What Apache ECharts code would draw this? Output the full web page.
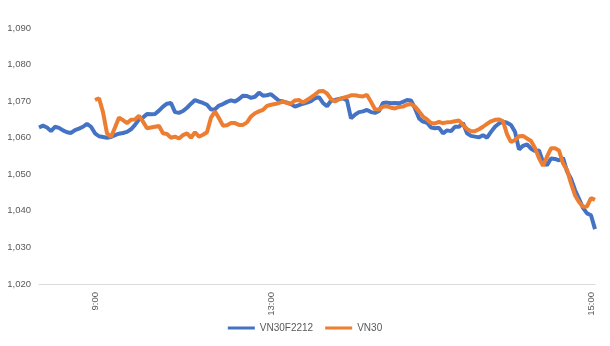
<!DOCTYPE html>
<html>
<head>
<meta charset="utf-8">
<script src="https://cdn.jsdelivr.net/npm/echarts@6/dist/echarts.min.js"></script>
<style>html,body{margin:0;padding:0;background:#fff}#c{width:610px;height:346px}</style>
</head>
<body>
<div id="c"></div>
<script>
const seriesNames = ['VN30F2212', 'VN30'];
const tickLabels = ['9:00', '13:00', '15:00'];
const tickIndex = [14, 58, 138];
const vn30f2212 = [
1062.8,1063.3,1062.8,1061.8,1063,1062.7,1062,1061.5,1061.3,1062.1,
1062.5,1063,1063.8,1063,1061.2,1060.4,1060.2,1060,1060.2,1060.7,
1061.1,1061.3,1061.6,1062.3,1063.5,1065,1065.5,1066.5,1066.4,1066.5,
1067.4,1068.5,1069.3,1069.5,1067,1066.8,1067.3,1068.2,1069.3,1070.3,
1069.9,1069.5,1069,1067.7,1067.8,1068.8,1069.2,1069.8,1070.2,1069.9,
1070.6,1071.5,1071.4,1070.9,1071.2,1072.3,1071.5,1071.6,1071.9,1071,
1070.1,1069.9,1069.6,1069.2,1068.5,1068.9,1069.3,1069.6,1070,1070.8,
1071.1,1069.5,1068.6,1070.1,1070.3,1070.6,1070.8,1070.2,1065.3,1066.3,
1067,1067.2,1067.6,1067,1066.8,1067.3,1069.5,1069.6,1069.4,1069.5,
1069.4,1069.8,1070.3,1070.2,1068,1065.3,1064.4,1064.1,1062.8,1062.6,
1062.7,1061.2,1062,1061.8,1063,1063,1064,1061.2,1060.5,1060.3,
1060.1,1060.7,1060,1061.6,1063,1063.9,1064.4,1064.1,1063.5,1061.6,
1056.8,1057.8,1058.2,1057,1056.4,1056.5,1053.4,1052.5,1054.3,1054.2,
1053.8,1054.5,1050.8,1048.8,1045.7,1043.3,1040.8,1039.3,1038.8,1035
];
const vn30 = [
null,null,null,null,null,null,null,null,null,null,
null,null,null,null,1070.3,1070.8,1067,1061.2,1060.2,1062.8,
1065.5,1064.8,1064,1064.9,1065,1066,1064.4,1062.6,1062.8,1063,
1063.2,1061.2,1061,1060,1060.3,1059.8,1060.7,1061.2,1060,1061.5,
1060.3,1060.8,1061.5,1065.5,1067.2,1065.3,1063.3,1063.4,1064,1064,
1063.5,1063.5,1064.2,1065.8,1066.7,1067.2,1067.6,1068.7,1069,1069.2,
1069.5,1069.9,1069.5,1069.3,1070.2,1070.3,1069.6,1070.3,1071,1071.8,
1072.7,1072.8,1072.1,1070.6,1069.9,1070.5,1070.9,1071.2,1071.6,1071.6,
1071.4,1071.3,1071.7,1069.8,1067.8,1067.7,1068.5,1068.6,1068.2,1068,
1068.4,1068.5,1069,1069.2,1068.5,1067.2,1065.8,1065,1064,1063.9,
1064.3,1064,1064.2,1064.3,1064.5,1064.7,1063.5,1062.4,1061.8,1061.8,
1062.3,1063,1063.8,1064.5,1064.9,1065,1064.5,1061,1058.8,1059.4,
1060.4,1060.5,1059.8,1059.1,1057.2,1054.4,1052.3,1054.8,1057.1,1057.1,
1056.5,1053,1051.2,1047.5,1044.3,1042.4,1041.1,1041.2,1043.5,1043
];
const yMin = 1020, yMax = 1090, yStep = 10;

const categories = vn30f2212.map(function (_, i) {
  const k = tickIndex.indexOf(i);
  return k >= 0 ? tickLabels[k] : '';
});

const chart = echarts.init(document.getElementById('c'), null, {renderer: 'canvas'});
const font = 'Liberation Sans';
chart.setOption({
  animation: false,
  backgroundColor: '#ffffff',
  grid: {left: 39, right: 15, top: 28, bottom: 62, containLabel: false},
  legend: {
    data: seriesNames,
    bottom: 8,
    left: 'center',
    icon: 'rect',
    itemWidth: 27,
    itemHeight: 3,
    itemGap: 12,
    textStyle: {color: '#595959', fontSize: 10, fontFamily: font}
  },
  xAxis: {
    type: 'category',
    data: categories,
    boundaryGap: false,
    axisLine: {show: true, lineStyle: {color: '#d9d9d9', width: 1}},
    axisTick: {show: false},
    splitLine: {show: false},
    axisLabel: {
      interval: function (i) { return tickIndex.indexOf(i) >= 0; },
      rotate: 90,
      margin: 8,
      color: '#595959',
      fontSize: 9.5,
      fontFamily: font
    }
  },
  yAxis: {
    type: 'value',
    min: yMin,
    max: yMax,
    interval: yStep,
    axisLine: {show: false},
    axisTick: {show: false},
    splitLine: {show: false},
    axisLabel: {
      margin: 8,
      color: '#595959',
      fontSize: 9.5,
      fontFamily: font,
      formatter: function (v) { return v.toLocaleString('en-US'); }
    }
  },
  series: [
    {name: seriesNames[0], type: 'line', data: vn30f2212, showSymbol: false, symbol: 'none',
     lineStyle: {color: '#4472C4', width: 4}, itemStyle: {color: '#4472C4'}},
    {name: seriesNames[1], type: 'line', data: vn30, showSymbol: false, symbol: 'none',
     lineStyle: {color: '#ED7D31', width: 4}, itemStyle: {color: '#ED7D31'}}
  ]
});
</script>
</body>
</html>
